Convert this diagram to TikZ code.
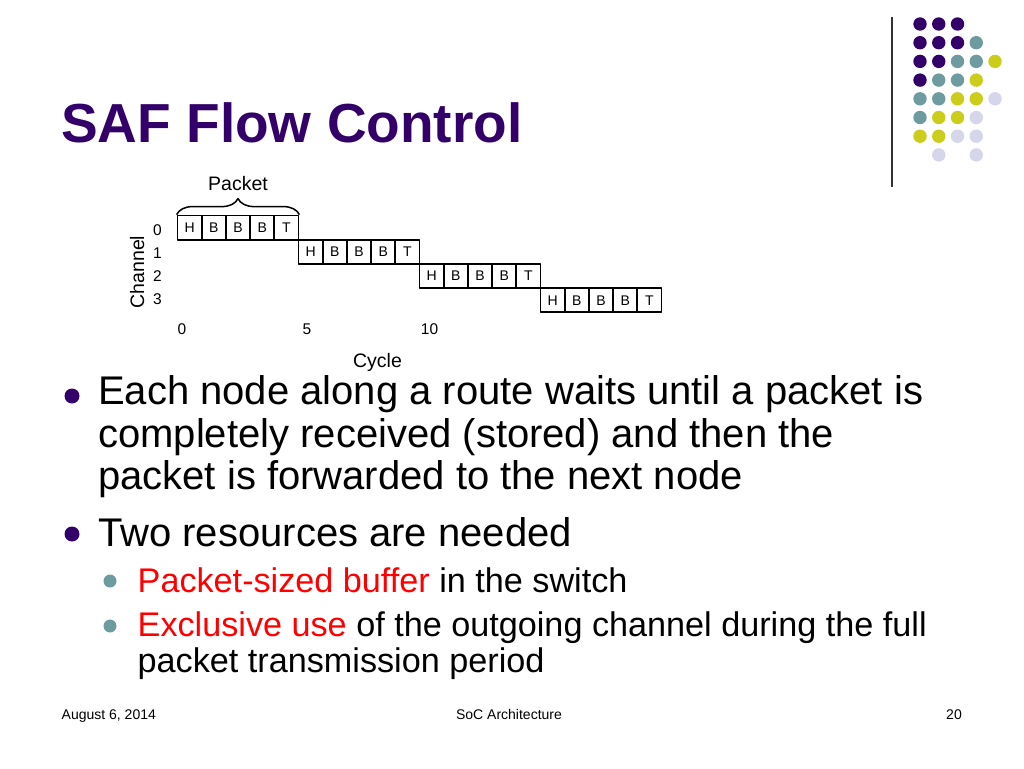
\documentclass[tikz,border=0pt]{standalone}
\usepackage{fontspec}
\setmainfont{Liberation Sans}
\usetikzlibrary{positioning,decorations.pathreplacing}
\definecolor{safpurple}{HTML}{33006A}
\definecolor{safteal}{HTML}{6E9BA0}
\definecolor{safolive}{HTML}{CCCC1A}
\definecolor{saflilac}{HTML}{D6D6EA}
\definecolor{safred}{HTML}{FF0000}
\definecolor{safrule}{HTML}{333333}

\begin{document}
\begin{tikzpicture}[x=1pt, y=-1pt, line join=round,
    cell/.style={draw, line width=1.8pt, minimum width=24.2pt, minimum height=24.2pt,
      inner sep=0pt, font=\fontsize{14}{14}\selectfont},
    numlbl/.style={inner sep=0pt, font=\fontsize{15.5}{15.5}\selectfont},
    axlbl/.style={inner sep=0pt, font=\fontsize{19.5}{20}\selectfont},
    bigtxt/.style={inner sep=0pt, anchor=base west, font=\fontsize{40}{43}\selectfont},
    subtxt/.style={inner sep=0pt, anchor=base west, font=\fontsize{34.2}{36}\selectfont},
    foot/.style={inner sep=0pt, font=\fontsize{14}{14}\selectfont}]
  \fill[white] (0,0) rectangle (1024,768);
  \useasboundingbox (0,0) rectangle (1024,768);

  % corner dots and rule
  \draw[safrule, line width=1.3pt] (892,17) -- (892,187);
  \foreach \c/\r in {0/0,1/0,2/0,0/1,1/1,2/1,0/2,1/2,0/3}
    \fill[safpurple] (920+18.75*\c, 24+18.7*\r) circle (6.7);
  \foreach \c/\r in {3/1,2/2,3/2,1/3,2/3,0/4,1/4,0/5}
    \fill[safteal] (920+18.75*\c, 24+18.7*\r) circle (6.7);
  \foreach \c/\r in {4/2,3/3,2/4,3/4,1/5,2/5,0/6,1/6}
    \fill[safolive] (920+18.75*\c, 24+18.7*\r) circle (6.7);
  \foreach \c/\r in {4/4,3/5,2/6,3/6,1/7,3/7}
    \fill[saflilac] (920+18.75*\c, 24+18.7*\r) circle (6.7);

  \node[inner sep=0pt, anchor=base west, text=safpurple,
    font=\fontsize{55}{55}\selectfont\bfseries] (title) at (61,142) {SAF Flow Control};

  % packet timeline
  \foreach \p in {0,...,3}
    \foreach \t [count=\c from 0] in {H,B,B,B,T}
      \node[cell] (c\p\c) at ({189.6+24.2*(5*\p+\c)}, {227.6+24.2*\p}) {\t};
  \draw[line width=1.5pt, decorate, decoration={brace, amplitude=16pt}]
    (c00.north west) -- (c04.north east) node[axlbl, midway, above=23.5pt] (packet) {Packet};
  \foreach \k/\yb in {0/235,1/258.5,2/281,3/304}
    \node[numlbl, anchor=base] (ch\k) at (157.5,\yb) {\k};
  \foreach \k/\xc in {0/182,5/307,10/429.5}
    \node[numlbl, anchor=base] (cy\k) at (\xc,334) {\k};
  \node[axlbl, rotate=90, anchor=base] (channel) at (144,272) {Channel};
  \node[axlbl, anchor=base] (cycle) at (377.5,367) {Cycle};

  % bullets
  \fill[safpurple] (72,396) circle (7.5);
  \fill[safpurple] (72,534) circle (7.5);
  \fill[safteal] (110,581) circle (6.5);
  \fill[safteal] (110,626) circle (6.5);
  \node[bigtxt] (b1a) at (98,404) {Each node along a route waits until a packet is};
  \node[bigtxt] (b1b) at (98,447) {completely received (stored) and then the};
  \node[bigtxt] (b1c) at (98,489) {packet is forwarded to the next node};
  \node[bigtxt] (b2) at (98,546) {Two resources are needed};
  \node[subtxt] (s1) at (137.5,592) {\textcolor{safred}{Packet-sized buffer} in the switch};
  \node[subtxt] (s2a) at (137.5,636) {\textcolor{safred}{Exclusive use} of the outgoing channel during the full};
  \node[subtxt] (s2b) at (137.5,672) {packet transmission period};

  \node[foot, anchor=base west] (date) at (61.5,719) {August 6, 2014};
  \node[foot, anchor=base] (course) at (509,719) {SoC Architecture};
  \node[foot, anchor=base east] (pageno) at (962,719) {20};
\end{tikzpicture}
\end{document}
